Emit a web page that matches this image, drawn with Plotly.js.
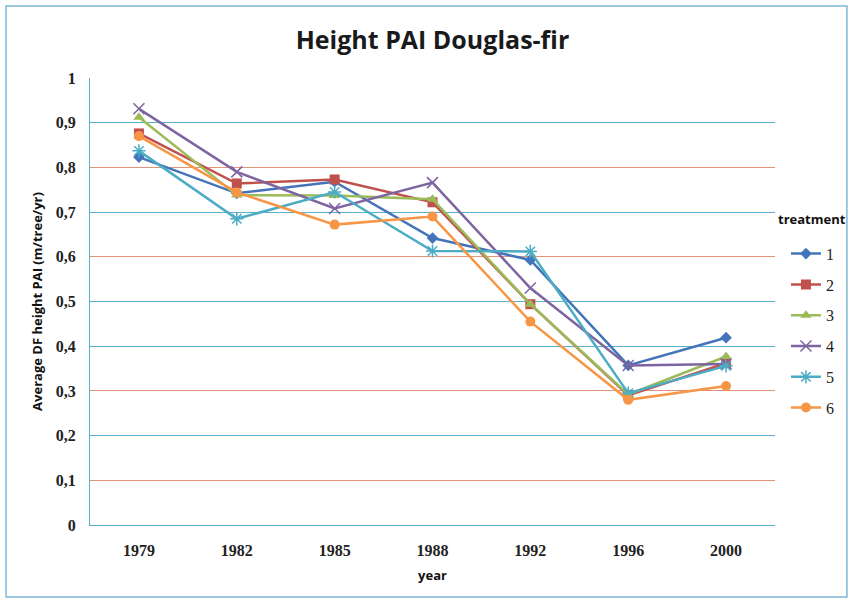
<!DOCTYPE html>
<html>
<head>
<meta charset="utf-8">
<script src="https://cdn.plot.ly/plotly-3.0.1.min.js"></script>
<style>html,body{margin:0;padding:0;background:#fff;}#chart{width:853px;height:603px;}</style>
</head>
<body>
<div id="chart"></div>
<script>
const years = ["1979", "1982", "1985", "1988", "1992", "1996", "2000"];
const treatmentNames = ["1", "2", "3", "4", "5", "6"];
const t1 = [0.823, 0.742, 0.768, 0.642, 0.593, 0.357, 0.419];
const t2 = [0.876, 0.764, 0.773, 0.722, 0.494, 0.290, 0.362];
const t3 = [0.912, 0.738, 0.737, 0.729, 0.494, 0.292, 0.377];
const t4 = [0.931, 0.790, 0.708, 0.766, 0.530, 0.357, 0.360];
const t5 = [0.837, 0.685, 0.745, 0.613, 0.612, 0.295, 0.356];
const t6 = [0.870, 0.744, 0.672, 0.690, 0.455, 0.280, 0.311];
const yTickVals = [0, 0.1, 0.2, 0.3, 0.4, 0.5, 0.6, 0.7, 0.8, 0.9, 1];
const yTickText = ["0", "0,1", "0,2", "0,3", "0,4", "0,5", "0,6", "0,7", "0,8", "0,9", "1"];
const blueGrid = [0, 0.2, 0.4, 0.5, 0.7, 0.9, 1];
const orangeGrid = [0.1, 0.3, 0.6, 0.8];

const series = [t1, t2, t3, t4, t5, t6];
const colors = ["#4374B9", "#C0504D", "#9BBB59", "#7E64A0", "#4BACC6", "#F79646"];
const symbols = ["diamond", "square", "triangle-up", "x-thin-open", "asterisk-open", "circle"];
const sizes = [9, 10, 10, 11, 11, 10];

const traces = series.map((vals, i) => ({
  type: "scatter",
  mode: "lines+markers",
  x: years,
  y: vals,
  name: treatmentNames[i],
  legendgroup: "g" + i,
  line: {color: colors[i], width: 2.5},
  marker: {symbol: symbols[i], size: sizes[i], color: colors[i], line: {color: colors[i], width: (i === 3 || i === 4) ? 1.5 : 0}}
}));

const shapes = [{
  type: "rect", xref: "paper", yref: "paper",
  x0: -0.1226, x1: 1.105, y0: -0.161, y1: 1.161,
  line: {color: "#7FB9D6", width: 1.5}, fillcolor: "rgba(0,0,0,0)", layer: "below"
}];

const serif = "Liberation Serif, DejaVu Serif, serif";
const sans = "Open Sans, Liberation Sans, sans-serif";

const layout = {
  width: 853, height: 603,
  margin: {l: 90, r: 78, t: 78, b: 78, autoexpand: false},
  paper_bgcolor: "#ffffff", plot_bgcolor: "#ffffff",
  title: {text: "<b>Height PAI Douglas-fir</b>", x: 0.5, xref: "paper", y: 0.933, yanchor: "middle",
          font: {family: sans, size: 25, color: "#1a1a1a"}},
  xaxis: {
    type: "category", range: [-0.5, 6.5],
    showgrid: false, showline: true, linecolor: "#5AAFCF", linewidth: 1,
    ticks: "", tickfont: {family: serif, size: 16, color: "#222", weight: "bold"},
    ticklabelstandoff: 11,
    title: {text: "<b>year</b>", font: {family: sans, size: 13, color: "#111"}, standoff: 12}
  },
  yaxis: {
    range: [0, 1], tickvals: yTickVals, ticktext: yTickText,
    showgrid: false,
    showline: true, linecolor: "#5AAFCF", linewidth: 1, zeroline: false,
    ticks: "", tickfont: {family: serif, size: 16, color: "#222", weight: "bold"},
    ticklabelstandoff: 10,
    title: {text: "<b>Average DF height PAI (m/tree/yr)</b>", font: {family: sans, size: 13, color: "#111"}, standoff: 10}
  },
  yaxis2: {
    overlaying: "y", range: [0, 1], tickvals: blueGrid, showticklabels: false, ticks: "",
    showgrid: true, gridcolor: "#5AAFCF", gridwidth: 1, zeroline: false, showline: false
  },
  yaxis3: {
    overlaying: "y", range: [0, 1], tickvals: orangeGrid, showticklabels: false, ticks: "",
    showgrid: true, gridcolor: "#E0957A", gridwidth: 1, zeroline: false, showline: false
  },
  legend: {
    x: 1.016, xanchor: "left", y: 0.645, yanchor: "top",
    font: {family: serif, size: 16, color: "#222"},
    tracegroupgap: 7, itemwidth: 30, bgcolor: "rgba(0,0,0,0)"
  },
  annotations: [{
    text: "<b>treatment</b>", xref: "paper", yref: "paper",
    x: (812 - 90) / 685, y: (525 - 219) / 447, xanchor: "center", yanchor: "middle",
    showarrow: false, font: {family: sans, size: 13, color: "#111"}
  }],
  shapes: shapes,
  showlegend: true
};

// invisible helper traces so the grid-only overlay axes are drawn
traces.push({type: "scatter", x: years, y: years.map(() => null), yaxis: "y2", showlegend: false, hoverinfo: "skip"});
traces.push({type: "scatter", x: years, y: years.map(() => null), yaxis: "y3", showlegend: false, hoverinfo: "skip"});

Plotly.newPlot("chart", traces, layout, {displayModeBar: false, staticPlot: true});
</script>
</body>
</html>
